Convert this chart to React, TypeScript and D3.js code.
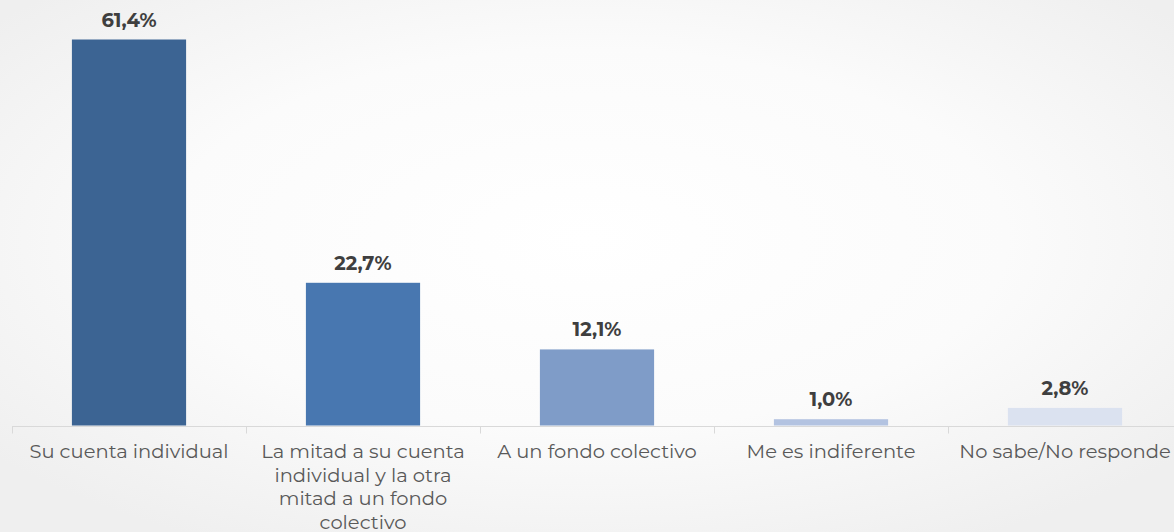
import React, { useRef, useEffect } from 'react';
import * as d3 from 'd3';

const categories = [
  'Su cuenta individual',
  'La mitad a su cuenta\nindividual y la otra\nmitad a un fondo\ncolectivo',
  'A un fondo colectivo',
  'Me es indiferente',
  'No sabe/No responde',
];
const values = [61.4, 22.7, 12.1, 1.0, 2.8];
const colors = ['#3c6493', '#4877b0', '#7f9cc8', '#b3c3e1', '#dbe2f0'];

const fmt = (v: number) => v.toFixed(1).replace('.', ',') + '%';

export default function App() {
  const svgRef = useRef<SVGSVGElement>(null);

  useEffect(() => {
    document.body.style.margin = '0';
    if (!svgRef.current) return;
    const svg = d3.select(svgRef.current);
    svg.selectAll('*').remove();

    const width = 1174;
    const height = 532;
    const font = 'Montserrat, "Open Sans", sans-serif';

    // soft radial backdrop
    const defs = svg.append('defs');
    const grad = defs.append('radialGradient')
      .attr('id', 'bg')
      .attr('cx', '50%').attr('cy', '45%').attr('r', '65%');
    grad.append('stop').attr('offset', '0%').attr('stop-color', '#ffffff');
    grad.append('stop').attr('offset', '55%').attr('stop-color', '#fbfbfb');
    grad.append('stop').attr('offset', '100%').attr('stop-color', '#efefef');
    svg.append('rect').attr('width', width).attr('height', height).attr('fill', 'url(#bg)');

    const x = d3.scaleBand<string>()
      .domain(categories)
      .range([12, 12 + 234 * categories.length])
      .padding(0);

    const y = d3.scaleLinear()
      .domain([0, 61.4])
      .range([425.5, 39.5]);

    const barW = x.bandwidth() * 0.488;

    svg.append('g')
      .selectAll('rect')
      .data(values)
      .enter()
      .append('rect')
      .attr('x', (d, i) => (x(categories[i]) || 0) + (x.bandwidth() - barW) / 2)
      .attr('y', d => y(d))
      .attr('width', barW)
      .attr('height', d => y(0) - y(d))
      .attr('fill', (d, i) => colors[i]);

    // value labels
    svg.append('g')
      .selectAll('text')
      .data(values)
      .enter()
      .append('text')
      .attr('x', (d, i) => (x(categories[i]) || 0) + x.bandwidth() / 2)
      .attr('y', d => y(d) - 13)
      .attr('text-anchor', 'middle')
      .attr('fill', '#3f3f3f')
      .style('font-family', font)
      .style('font-size', '19.5px')
      .style('font-weight', '700')
      .text(d => fmt(d));

    // axis line + tick marks at band boundaries
    const axisY = 426.5;
    svg.append('line')
      .attr('x1', 12).attr('x2', width)
      .attr('y1', axisY).attr('y2', axisY)
      .attr('stroke', '#d9d9d9').attr('stroke-width', 1);
    svg.append('g')
      .selectAll('line')
      .data(categories)
      .enter()
      .append('line')
      .attr('x1', d => (x(d) || 0) + 0.5)
      .attr('x2', d => (x(d) || 0) + 0.5)
      .attr('y1', axisY)
      .attr('y2', axisY + 7)
      .attr('stroke', '#d9d9d9');

    // category labels
    const labels = svg.append('g')
      .selectAll('text')
      .data(categories)
      .enter()
      .append('text')
      .attr('text-anchor', 'middle')
      .attr('fill', '#595959')
      .style('font-family', font)
      .style('font-size', '19.5px');
    labels.each(function (d) {
      const t = d3.select(this);
      const cx = (x(d) || 0) + x.bandwidth() / 2;
      d.split('\n').forEach((line, j) => {
        t.append('tspan')
          .attr('x', cx)
          .attr('y', 458 + j * 23.5)
          .text(line);
      });
    });
  }, []);

  return <svg ref={svgRef} width={1174} height={532} style={{ display: 'block' }} />;
}
